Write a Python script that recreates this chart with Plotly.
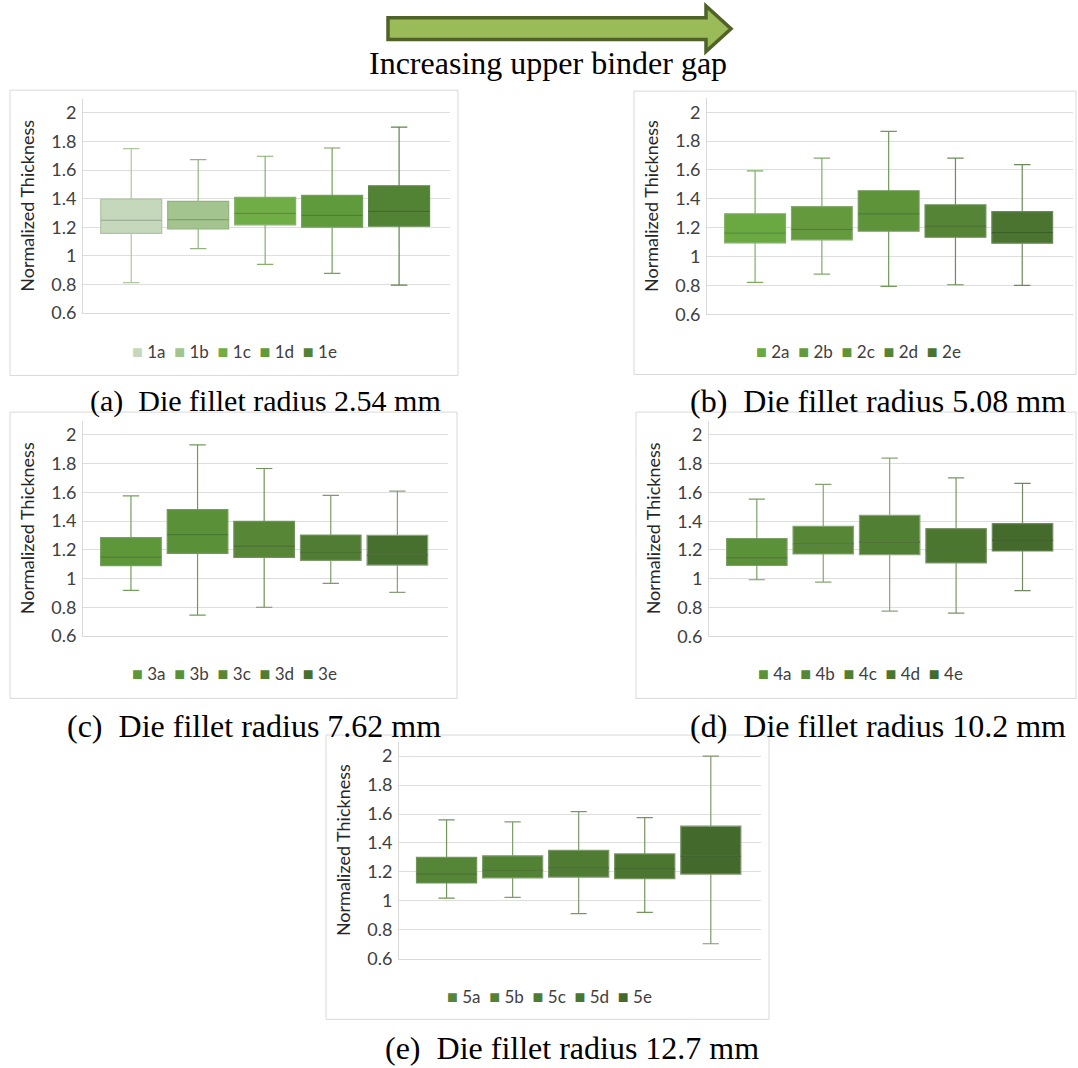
import plotly.graph_objects as go

W, H = 1078, 1068

# ---------------- data ----------------
series = [
    ["1a", "1b", "1c", "1d", "1e"],
    ["2a", "2b", "2c", "2d", "2e"],
    ["3a", "3b", "3c", "3d", "3e"],
    ["4a", "4b", "4c", "4d", "4e"],
    ["5a", "5b", "5c", "5d", "5e"],
]
upper = [
    [1.751, 1.674, 1.697, 1.755, 1.901],
    [1.593, 1.682, 1.867, 1.682, 1.637],
    [1.575, 1.931, 1.766, 1.579, 1.609],
    [1.553, 1.656, 1.839, 1.702, 1.663],
    [1.559, 1.546, 1.616, 1.575, 2.000],
]
q3 = [
    [1.397, 1.381, 1.409, 1.423, 1.490],
    [1.296, 1.346, 1.456, 1.358, 1.312],
    [1.285, 1.480, 1.398, 1.303, 1.301],
    [1.280, 1.365, 1.440, 1.349, 1.383],
    [1.301, 1.311, 1.349, 1.324, 1.516],
]
median = [
    [1.249, 1.254, 1.298, 1.284, 1.312],
    [1.163, 1.189, 1.296, 1.211, 1.166],
    [1.149, 1.306, 1.225, 1.184, 1.163],
    [1.145, 1.243, 1.255, 1.193, 1.268],
    [1.185, 1.212, 1.228, 1.221, 1.308],
]
q1 = [
    [1.157, 1.189, 1.217, 1.201, 1.208],
    [1.095, 1.116, 1.177, 1.134, 1.093],
    [1.090, 1.175, 1.147, 1.126, 1.094],
    [1.092, 1.172, 1.167, 1.110, 1.193],
    [1.123, 1.158, 1.164, 1.153, 1.185],
]
lower = [
    [0.813, 1.051, 0.940, 0.878, 0.795],
    [0.821, 0.878, 0.793, 0.805, 0.800],
    [0.917, 0.745, 0.800, 0.966, 0.903],
    [0.993, 0.977, 0.775, 0.761, 0.917],
    [1.018, 1.023, 0.911, 0.920, 0.703],
]
captions = [
    "(a)\u00a0\u00a0Die fillet radius 2.54 mm",
    "(b)\u00a0\u00a0Die fillet radius 5.08 mm",
    "(c)\u00a0\u00a0Die fillet radius 7.62 mm",
    "(d)\u00a0\u00a0Die fillet radius 10.2 mm",
    "(e)\u00a0\u00a0Die fillet radius 12.7 mm",
]
y_ticks = [0.6, 0.8, 1.0, 1.2, 1.4, 1.6, 1.8, 2.0]
y_ticktext = ["0.6", "0.8", "1", "1.2", "1.4", "1.6", "1.8", "2"]
y_title = "Normalized Thickness"
arrow_label = "Increasing upper binder gap"

# ---------------- styles ----------------
fills = [
    ["#c5d8bb", "#a3c48f", "#70ad47", "#5f9b3c", "#528234"],
    ["#6aa842", "#64993e", "#5e933a", "#558436", "#4a7430"],
    ["#5e963a", "#5a9138", "#568636", "#507d33", "#47702e"],
    ["#5b9138", "#578736", "#517f33", "#4b7630", "#446b2c"],
    ["#558536", "#528234", "#4f7c32", "#4a7630", "#436a2c"],
]
lines = [
    ["#aec5a1", "#93b47f", "#86b06a", "#74a05c", "#5e8648"],
    ["#7fae5f", "#84a86d", "#70995a", "#6a8f55", "#6b8a5a"],
    ["#769f5b", "#729b58", "#6f9259", "#7e9a6c", "#8aa07c"],
    ["#7c9f66", "#86a572", "#8aa47b", "#7a9569", "#6f8a5f"],
    ["#6f955a", "#7f9e6d", "#7b9968", "#76945f", "#7f9870"],
]


def darker(hexc, f=0.82):
    r, g, b = (int(hexc[i:i + 2], 16) for i in (1, 3, 5))
    return "#%02x%02x%02x" % (int(r * f), int(g * f), int(b * f))


# pixel geometry: plot areas (x0, x1, y_top(2.1), y_bottom(0.6)) and panel frames
plot_px = [
    (83, 450, 99.6, 316.0),
    (707, 1073, 98.7, 317.3),
    (83, 448, 424.5, 642.0),
    (709, 1073, 424.5, 642.3),
    (399, 761, 748.7, 967.7),
]
frame_px = [
    (10, 91, 458, 379),
    (634, 92, 1076, 378),
    (10, 416, 457, 705),
    (636, 416, 1076, 705),
    (326, 742, 769, 1029),
]
legend_px = [(234, 354), (858, 354), (234, 679), (860, 679), (549, 1005)]
caption_px = [(443, 405, "right", 30), (1068, 405, "right", 32), (443, 733, "right", 32),
              (1068, 733, "right", 32), (572, 1058, "center", 32)]


def px(x):
    return x / W


def py(y):
    return 1 - y / H


fig = go.Figure()
layout = dict(
    width=W, height=H,
    margin=dict(l=0, r=0, t=0, b=0),
    paper_bgcolor="white", plot_bgcolor="white",
    boxmode="overlay", boxgap=0.09, boxgroupgap=0,
    showlegend=False,
    font=dict(family="Lato, Carlito, sans-serif", color="#404040"),
)

for p in range(5):
    sfx = "" if p == 0 else str(p + 1)
    for i in range(5):
        fig.add_trace(go.Box(
            x=[series[p][i]], q1=[q1[p][i]], median=[median[p][i]], q3=[q3[p][i]],
            lowerfence=[lower[p][i]], upperfence=[upper[p][i]],
            name=series[p][i], fillcolor=fills[p][i],
            line=dict(color=lines[p][i], width=1.2),
            whiskerwidth=0.27, boxpoints=False,
            xaxis="x" + sfx, yaxis="y" + sfx,
        ))
        # darker median line, as in the source chart
        fig.add_trace(go.Box(
            x=[series[p][i]], q1=[median[p][i]], median=[median[p][i]], q3=[median[p][i]],
            lowerfence=[median[p][i]], upperfence=[median[p][i]],
            name=series[p][i] + " median", fillcolor="rgba(0,0,0,0)",
            line=dict(color=darker(fills[p][i]), width=1.2),
            whiskerwidth=0, boxpoints=False, hoverinfo="skip",
            xaxis="x" + sfx, yaxis="y" + sfx,
        ))
    x0, x1, yt, yb = plot_px[p]
    layout["xaxis" + sfx] = dict(
        domain=[px(x0), px(x1)], anchor="y" + sfx, type="category",
        categoryorder="array", categoryarray=series[p],
        range=[-0.72, 4.76], showticklabels=False, ticks="",
        showgrid=False, zeroline=False, showline=True, linecolor="#d9d9d9",
        linewidth=1, fixedrange=True,
    )
    layout["yaxis" + sfx] = dict(
        domain=[py(yb), py(yt)], anchor="x" + sfx, range=[0.6, 2.1],
        tickvals=y_ticks, ticktext=y_ticktext, ticks="",
        ticklabelstandoff=2,
        tickfont=dict(family="Lato", size=18, color="#404040"),
        showgrid=True, gridcolor="#dedede", gridwidth=1,
        zeroline=False, showline=True, linecolor="#d9d9d9", linewidth=1,
        title=dict(text=y_title, font=dict(family="Lato", size=18, color="#262626"),
                   standoff=11),
        fixedrange=True,
    )

shapes = []
for (fx0, fy0, fx1, fy1) in frame_px:
    shapes.append(dict(type="rect", xref="paper", yref="paper",
                       x0=px(fx0), y0=py(fy1), x1=px(fx1), y1=py(fy0),
                       line=dict(color="#d9d9d9", width=1), fillcolor="rgba(0,0,0,0)",
                       layer="below"))

# arrow at the top
arrow_pts = [(388, 18), (706, 18), (706, 6), (731, 29), (706, 52), (706, 40), (388, 40)]
path = "M " + " L ".join(f"{px(x):.5f},{py(y):.5f}" for x, y in arrow_pts) + " Z"
shapes.append(dict(type="path", xref="paper", yref="paper", path=path,
                   fillcolor="#9bbb59", line=dict(color="#4f6228", width=3.5)))

annotations = []
annotations.append(dict(text=arrow_label, xref="paper", yref="paper",
                        x=px(548), y=py(64), xanchor="center", yanchor="middle",
                        showarrow=False,
                        font=dict(family="Liberation Serif, Times New Roman, serif",
                                  size=32, color="black")))

for p in range(5):
    cx, cy, anch, fs = caption_px[p]
    annotations.append(dict(text=captions[p], xref="paper", yref="paper",
                            x=px(cx), y=py(cy), xanchor=anch, yanchor="middle",
                            showarrow=False,
                            font=dict(family="Liberation Serif, Times New Roman, serif",
                                      size=fs, color="black")))
    parts = []
    for i in range(5):
        parts.append(f"<span style='color:{fills[p][i]};font-size:18px'>\u25a0</span>"
                     f"\u00a0{series[p][i]}")
    lx, ly = legend_px[p]
    annotations.append(dict(text="\u00a0\u00a0".join(parts), xref="paper", yref="paper",
                            x=px(lx), y=py(ly), xanchor="center", yanchor="middle",
                            showarrow=False,
                            font=dict(family="Lato", size=17, color="#404040")))

layout["shapes"] = shapes
layout["annotations"] = annotations
fig.update_layout(**layout)

fig.write_html("out.html", config={"displayModeBar": False},
               post_script="document.body.style.margin='0';")
